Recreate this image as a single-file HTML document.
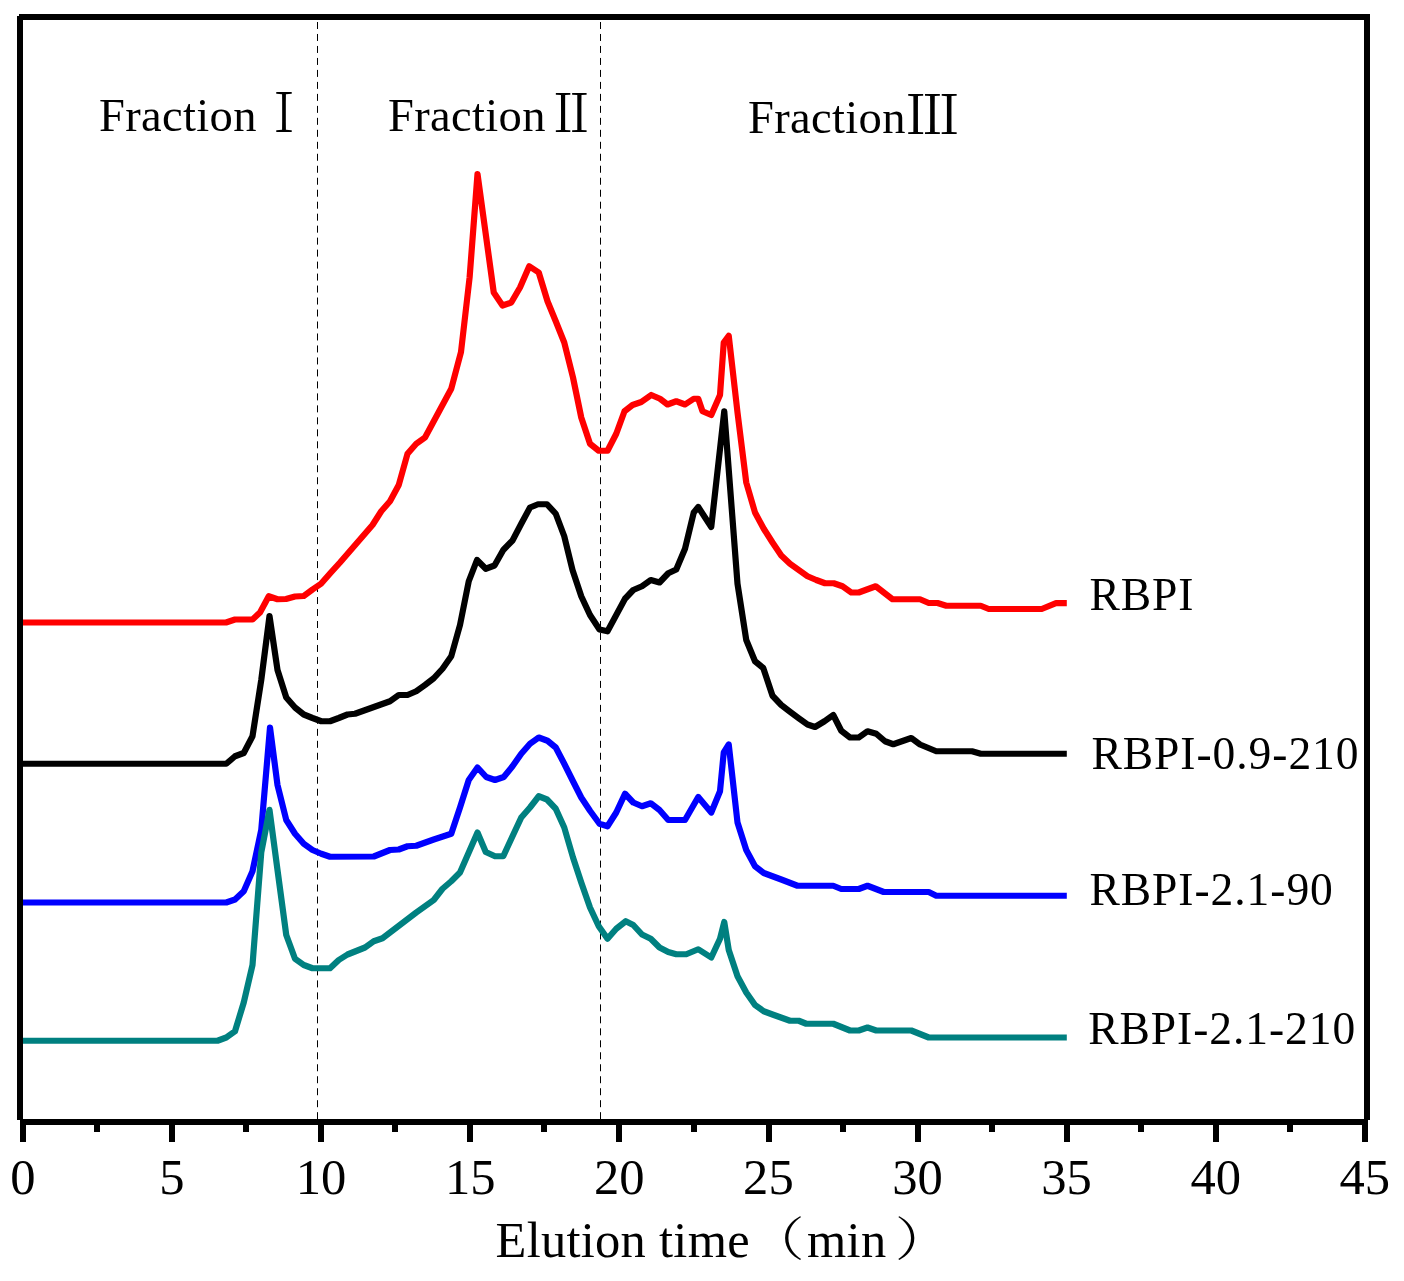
<!DOCTYPE html>
<html lang="en">
<head>
<meta charset="utf-8">
<title>Elution profile</title>
<style>
html,body{margin:0;padding:0;background:#fff;}
body{width:1404px;height:1281px;overflow:hidden;}
svg{display:block;will-change:transform;}
text{font-family:"Liberation Serif","Noto Serif CJK SC",serif;fill:#000;}
.rn{font-family:"Noto Serif CJK SC","Liberation Serif",serif;}
.pn{font-family:"Noto Serif CJK SC","Liberation Serif",serif;font-weight:300;}
.cv{fill:none;stroke-width:6.2;stroke-linejoin:round;stroke-linecap:butt;}
</style>
</head>
<body>
<svg width="1404" height="1281" viewBox="0 0 1404 1281">
<rect width="1404" height="1281" fill="#fff"/>
<!-- dashed fraction dividers -->
<g stroke="#000" stroke-width="1" stroke-dasharray="7 4.98" fill="none">
<line x1="317.5" y1="22" x2="317.5" y2="1119"/>
<line x1="600.5" y1="22" x2="600.5" y2="1119"/>
</g>
<!-- curves -->
<polyline class="cv" stroke="#ff0000" points="23,622.5 226,622.5 235,619.5 252.5,619.5 260,612.5 268.75,596.25 277.5,599.25 286,599 295,596.5 303.75,596 312.5,589.5 321,583.75 330,573.5 340,562.5 372.5,525 381.25,511.25 390,501.25 398.75,485 407.5,453.75 416.25,443.75 425,437.5 433.75,421.25 442.5,405 451.25,388.75 461,352 469.6,277.5 477.5,174 493.75,292.5 502.5,305.5 511.25,302.5 520,287.5 529.25,266.25 538.75,272.5 547.5,301.25 556.25,322.5 564.25,342.5 573,377.5 581.25,417.5 590,443.75 598.75,450.75 607.5,450.75 616.25,433.75 624.5,411.25 632.5,405 641.25,402 651.25,395 660,398.75 667.5,404.5 676.25,401.25 685,404.5 693.75,398.75 698.25,398.75 702.5,411.25 711.25,415 720,395 723.75,342.5 728.75,335.75 737.5,412.5 746.25,482.5 755,512.5 763.75,528.75 772.5,542.5 781.25,555.5 790,563.75 798.75,570 807.5,576.25 816.25,580 825,583.25 833.75,583.25 842.5,586.25 851.25,592.5 858.75,592.5 875.75,586.25 892.5,599.25 920,599.25 928.75,603 937.5,603 946.25,605.75 980.75,605.75 988.75,609 1041.7,609 1056,603.2 1066.8,603.2"/>
<polyline class="cv" stroke="#000000" points="23,763.75 226.25,763.75 235,756.25 243.75,753 252.5,736.25 261.25,680 269.5,616 277.5,670 286.25,697.5 295,707.5 303.75,714.5 312.5,718 321.25,721.25 330,721.25 338.75,718 347.5,714.5 355,713.75 372.5,707.5 390,701.25 398.75,695 407.5,695 416.25,691.25 425,685 433.75,678.25 442.5,668.75 451.25,656.25 460,625 468.75,581.25 477,560 485.75,568.75 494.5,565.5 503.25,550 512.5,540.5 521.25,523.75 530,507.5 538,504.25 547,504.25 555.75,513.75 564.25,536.25 572.5,570 581.25,596.25 590,615 599.5,629.5 607.5,631.25 616.25,615 625,598.75 633.25,590 642,586.25 650.75,580 659.5,582.5 668.25,573.25 676.25,569.5 685,548.75 693.75,512.5 698.25,507 711.25,527 724.25,411.25 737.5,583.75 746.25,640 755,661.25 763.25,668 772.5,695.75 781.25,705 790,711.75 798.75,718.25 807.5,724.5 815,727 824.5,721.25 833.25,715 841.25,730.75 850,737.5 858.75,737.5 867.5,731.25 876.25,733.75 885,741.25 893.25,744.25 911.25,738 920,744.5 936.25,751.25 972,751.25 980.75,753.75 1066.8,753.75"/>
<polyline class="cv" stroke="#0000ff" points="23,902.5 226.25,902.5 235,899.5 243.75,891.25 252.5,871.25 261.25,830 270,727.5 277.5,785 286.25,820 295,833.75 303.75,843.75 312.5,850 321.25,853.75 330,856.75 373.75,856.5 390,850 398.75,849.5 407.5,846.25 416.25,845.75 433.75,839.5 451.25,833.75 460,807.5 468.75,780 477.5,767.5 486.25,777 495,780 503.75,777 512.5,766.25 521.25,753.75 530,743.75 538.75,737.5 547.5,740.75 555.75,747.5 564.25,763.75 573,781.25 581.25,797.5 590,810.75 599.5,823.75 607.5,826.25 616.25,812.5 625,793.75 633.25,802.5 642,806.25 650.75,803.25 659.5,810 668.25,820 685,820 698.25,797 711.25,812.5 720,791.25 723.75,752.5 728.75,744.5 737.5,822.5 746.25,850 755,866.25 763.75,873 781.25,879.5 797.5,885.75 833.25,885.75 841.25,889 858.75,889 867.5,885.75 883.75,892 928.75,892 936.25,895.75 1066.8,895.75"/>
<polyline class="cv" stroke="#008080" points="23,1040.75 217.5,1040.75 226.25,1037.5 235,1031.25 243.75,1002.5 252.5,965 261.25,852.5 269.5,809.8 277.5,870 286.25,935 295,958.75 303.75,965 312.5,968.25 330,968.25 338.75,960 347.5,954.5 365,947.5 373.75,941.25 382.5,938.25 416.25,912.5 433.75,900 442.5,888.75 451.25,881.25 460,872.5 468.75,852.5 477.5,832.5 485.75,852 495,856.25 503.25,856.25 512.5,836.25 521.25,817.5 530,807.5 538.75,796.25 547,799.5 555.75,808.75 564.25,827.5 573,857.5 581.25,882.5 590,907.5 598.75,926.25 607.5,938.75 616.25,928.75 625.75,921.25 633.25,925 642,934.5 650.75,938.75 659.5,947.5 668.25,952 676.25,954.25 686.25,954.25 698.25,949.25 711.25,957.5 720,938.75 724.25,922 728.75,950 737.5,976.25 746.25,992.5 755,1005 763.75,1011.25 772.5,1014.5 790,1020.75 798.75,1020.75 806.25,1023.75 833.25,1023.75 850,1030.5 858.75,1030.5 867.5,1027.5 876.25,1030.5 911.25,1030.5 928.75,1037.5 1066.8,1037.5"/>
<!-- frame -->
<g fill="#000">
<rect x="19" y="14" width="1351" height="6"/>
<rect x="17" y="16" width="6" height="1104"/>
<rect x="1364" y="14" width="6" height="1106"/>
<rect x="20" y="1119" width="1348" height="6"/>
<rect x="20" y="1122" width="6" height="20"/>
<rect x="169" y="1122" width="6" height="20"/>
<rect x="318" y="1122" width="6" height="20"/>
<rect x="467" y="1122" width="6" height="20"/>
<rect x="616" y="1122" width="6" height="20"/>
<rect x="766" y="1122" width="6" height="20"/>
<rect x="915" y="1122" width="6" height="20"/>
<rect x="1064" y="1122" width="6" height="20"/>
<rect x="1213" y="1122" width="6" height="20"/>
<rect x="1362" y="1122" width="6" height="20"/>
<rect x="94" y="1122" width="6" height="10"/>
<rect x="243" y="1122" width="6" height="10"/>
<rect x="392" y="1122" width="6" height="10"/>
<rect x="541" y="1122" width="6" height="10"/>
<rect x="691" y="1122" width="6" height="10"/>
<rect x="840" y="1122" width="6" height="10"/>
<rect x="989" y="1122" width="6" height="10"/>
<rect x="1138" y="1122" width="6" height="10"/>
<rect x="1287" y="1122" width="6" height="10"/>
</g>
<!-- tick labels -->
<g font-size="50.6">
<text x="22.90" y="1194" text-anchor="middle">0</text>
<text x="172.00" y="1194" text-anchor="middle">5</text>
<text x="321.10" y="1194" text-anchor="middle">10</text>
<text x="470.20" y="1194" text-anchor="middle">15</text>
<text x="619.30" y="1194" text-anchor="middle">20</text>
<text x="768.40" y="1194" text-anchor="middle">25</text>
<text x="917.50" y="1194" text-anchor="middle">30</text>
<text x="1066.60" y="1194" text-anchor="middle">35</text>
<text x="1215.70" y="1194" text-anchor="middle">40</text>
<text x="1364.80" y="1194" text-anchor="middle">45</text>
</g>
<!-- axis title -->
<g font-size="50.5">
<text x="495.5" y="1256.5" letter-spacing="0.28">Elution time</text>
<text class="pn" transform="translate(748.3,1255.5) scale(1.2,1)" font-size="47">（</text>
<text x="807" y="1256.5" letter-spacing="0.3">min</text>
<text class="pn" transform="translate(894.8,1255.5) scale(1.2,1)" font-size="47">）</text>
</g>
<!-- fraction labels -->
<g font-size="46.5" letter-spacing="0.35">
<text x="99" y="131.2">Fraction</text>
<text x="388" y="131.2">Fraction</text>
<text x="748" y="132.7">Fraction</text>
</g>
<g font-size="44">
<text class="rn" transform="translate(261.9,131.9) scale(1,1.21)">Ⅰ</text>
<text class="rn" transform="translate(546.4,131.9) scale(1.125,1.2)">Ⅱ</text>
<text class="rn" transform="translate(905.5,133.7) scale(1.225,1.21)">Ⅲ</text>
</g>
<!-- legend labels -->
<g font-size="45.5" letter-spacing="0.95">
<text x="1089.5" y="609.5">RBPI</text>
<text x="1091.5" y="768.6">RBPI-0.9-210</text>
<text x="1089.5" y="905.3">RBPI-2.1-90</text>
<text x="1088.2" y="1043.6">RBPI-2.1-210</text>
</g>
</svg>
</body>
</html>
